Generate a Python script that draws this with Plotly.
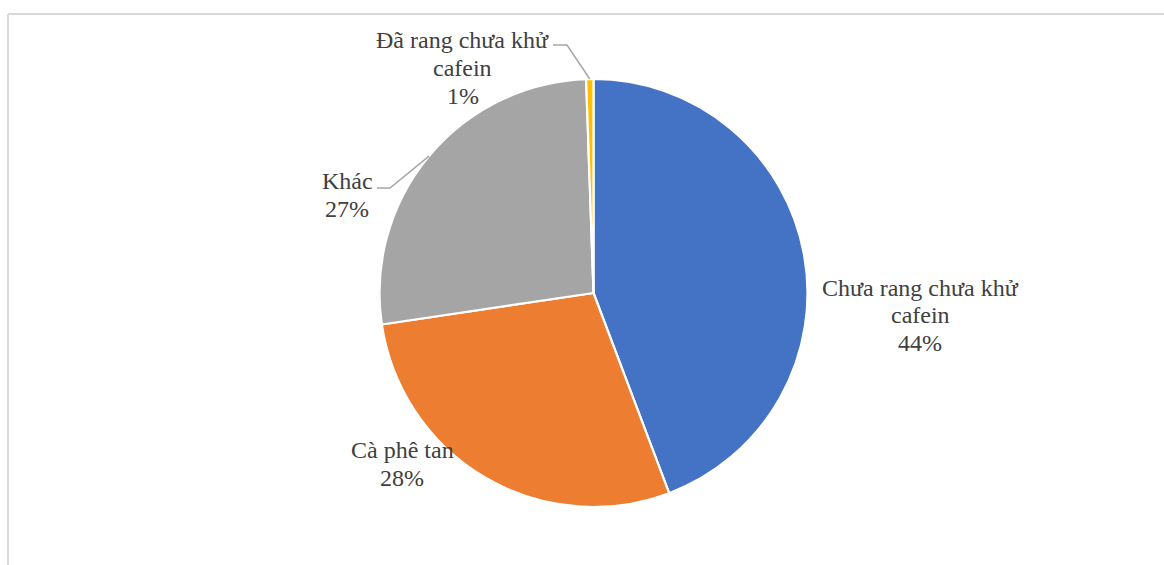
import math
import plotly.graph_objects as go

# Coffee export structure by product type (share, %)
categories = ["Chưa rang chưa khử cafein", "Cà phê tan", "Khác", "Đã rang chưa khử cafein"]
shares = [44.25, 28.4, 26.8, 0.55]
colors = ["#4472C4", "#ED7D31", "#A5A5A5", "#FFC000"]

W, H = 1164, 565
CX, CY, R = 593.5, 293.0, 214.0  # pie centre and radius in pixels

# label block centres (px) and optional leader-line elbow points (px)
label_pos = [(920, 315), (402, 464), (347, 195), (463, 68)]
elbows = [None, None, [(390, 188), (377, 188)], [(567, 45), (553, 45)]]
LINE_GAP = 27.5  # px between label lines

FONT = "Liberation Serif, Times New Roman, serif"
TXT = "#404040"


def px(x, y):
    return x / W, 1 - y / H


fig = go.Figure(
    go.Pie(
        labels=categories,
        values=shares,
        sort=False,
        direction="clockwise",
        rotation=0,
        marker=dict(colors=colors, line=dict(color="#FFFFFF", width=2.2)),
        textinfo="none",
        hoverinfo="label+percent",
        showlegend=False,
        domain=dict(x=[(CX - R) / W, (CX + R) / W], y=[1 - (CY + R) / H, 1 - (CY - R) / H]),
    )
)

total = sum(shares)
annotations = []
shapes = []
start = 0.0
for name, val, pos, elbow in zip(categories, shares, label_pos, elbows):
    frac = val / total
    mid = (start + frac / 2) * 2 * math.pi
    start += frac
    pct = f"{math.floor(frac * 100 + 0.5):d}%"
    lines = name.replace("khử ", "khử\n").split("\n") + [pct]
    n = len(lines)
    for i, line in enumerate(lines):
        ax, ay = px(pos[0], pos[1] + (i - (n - 1) / 2) * LINE_GAP)
        annotations.append(
            dict(
                x=ax, y=ay, xref="paper", yref="paper", text=line, showarrow=False,
                xanchor="center", yanchor="middle", align="center",
                font=dict(family=FONT, size=24, color=TXT),
            )
        )
    if elbow:
        ex = CX + R * math.sin(mid)
        ey = CY - R * math.cos(mid)
        pts = [(ex, ey)] + elbow
        path = "M " + " L ".join(f"{p[0]},{p[1]}" for p in [px(*q) for q in pts])
        shapes.append(dict(type="path", path=path, xref="paper", yref="paper",
                           line=dict(color="#A6A6A6", width=1.5)))

# chart area frame (top and left edges)
fx, fy = px(8, 14)
shapes.append(dict(type="line", xref="paper", yref="paper", x0=fx, y0=fy, x1=1, y1=fy,
                   line=dict(color="#D9D9D9", width=2)))
shapes.append(dict(type="line", xref="paper", yref="paper", x0=fx, y0=fy, x1=fx, y1=0,
                   line=dict(color="#D9D9D9", width=2)))

fig.update_layout(
    width=W, height=H,
    margin=dict(l=0, r=0, t=0, b=0),
    paper_bgcolor="#FFFFFF",
    plot_bgcolor="#FFFFFF",
    annotations=annotations,
    shapes=shapes,
    font=dict(family=FONT, color=TXT),
)

fig.write_html("out.html")
